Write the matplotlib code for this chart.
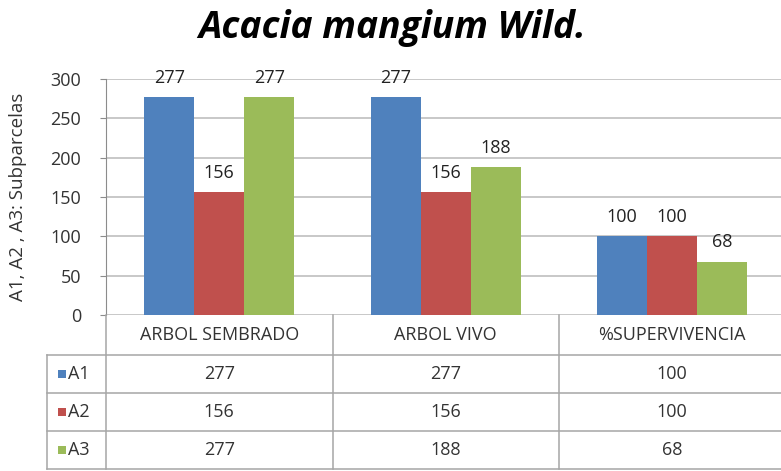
import matplotlib
matplotlib.use("Agg")
import matplotlib.pyplot as plt
import numpy as np
from matplotlib.lines import Line2D
from matplotlib.patches import Rectangle
import matplotlib.transforms as mtransforms

categories = ["ARBOL SEMBRADO", "ARBOL VIVO", "%SUPERVIVENCIA"]
series_names = ["A1", "A2", "A3"]
A1 = [277, 277, 100]
A2 = [156, 156, 100]
A3 = [277, 188, 68]
yticks = [0, 50, 100, 150, 200, 250, 300]
colors = ["#4F81BD", "#C0504D", "#9BBB59"]

plt.rcParams['font.family'] = ['Open Sans', 'DejaVu Sans']
W, H = 781, 471
fig = plt.figure(figsize=(W/100, H/100), dpi=100)

def fx(px):
    return px / W
def fy(py):
    return 1 - py / H

left_px, right_px = 106, 785.5
top_px, bot_px = 79, 315
ax = fig.add_axes([fx(left_px), fy(bot_px), fx(right_px - left_px), (bot_px - top_px) / H])

x = np.arange(len(categories))
bw = 50 / 226.5
series = [A1, A2, A3]
txt_c = '#333333'
fs = 13
for i, (vals, c) in enumerate(zip(series, colors)):
    xs = x + (i - 1) * bw
    ax.bar(xs, vals, width=bw, color=c, zorder=3)
    for xi, v in zip(xs, vals):
        ax.annotate(str(v), (xi, v), xytext=(0, 7.5), textcoords='offset points',
                    ha='center', va='bottom', fontsize=fs, color='#222222')

ax.set_xlim(-0.5, len(categories) - 0.5)
ax.set_ylim(0, 300)
ax.set_yticks(yticks)
ax.set_yticklabels([str(t) for t in yticks], fontsize=fs, color=txt_c)
ax.set_xticks([])
ax.grid(axis='y', color='#BFBFBF', linewidth=1.2, zorder=0)
for s in ['top', 'right', 'bottom']:
    ax.spines[s].set_visible(False)
ax.spines['left'].set_color('#8C8C8C')
ax.tick_params(axis='y', length=4, color='#8C8C8C', pad=14)

ax.set_ylabel("A1, A2 , A3: Subparcelas", fontsize=13.5, color=txt_c)
ax.yaxis.label.set_va('center')
ax.yaxis.set_label_coords(fx(18 - left_px) / fx(right_px - left_px), 0.5)

# Data table: x in data coords, y in figure coords
trans = mtransforms.blended_transform_factory(ax.transData, fig.transFigure)
ftrans = fig.transFigure
grid_c = '#A6A6A6'
row_tops = [315, 355, 393, 431, 469]
bounds = np.arange(len(categories) + 1) - 0.5

for yp in row_tops[1:]:
    fig.add_artist(Line2D([fx(47), fx(right_px)], [fy(yp), fy(yp)], transform=ftrans,
                          color=grid_c, lw=1.1))
for b in bounds:
    fig.add_artist(Line2D([b, b], [fy(315), fy(469)], transform=trans, color=grid_c, lw=1.1))
fig.add_artist(Line2D([fx(47), fx(47)], [fy(355), fy(469)], transform=ftrans, color=grid_c, lw=1.1))

for xi, cat in zip(x, categories):
    fig.text(xi, fy((315 + 355) / 2), cat, transform=trans, ha='center', va='center',
             fontsize=fs, color=txt_c)
for r, (name, vals, c) in enumerate(zip(series_names, series, colors)):
    yc = fy((row_tops[r + 1] + row_tops[r + 2]) / 2)
    fig.add_artist(Rectangle((fx(58), yc - 4 / H), 8 / W, 8 / H, transform=ftrans,
                             facecolor=c, edgecolor='none'))
    fig.text(fx(68), yc, name, transform=ftrans, ha='left', va='center', fontsize=fs,
             color=txt_c)
    for xi, v in zip(x, vals):
        fig.text(xi, yc, str(v), transform=trans, ha='center', va='center', fontsize=fs,
                 color=txt_c)

fig.text(fx(392), fy(28), "Acacia mangium Wild.", ha='center', va='center',
         fontsize=26.8, fontweight='bold', fontstyle='italic', color='black')

fig.savefig("out.png", dpi=100)
